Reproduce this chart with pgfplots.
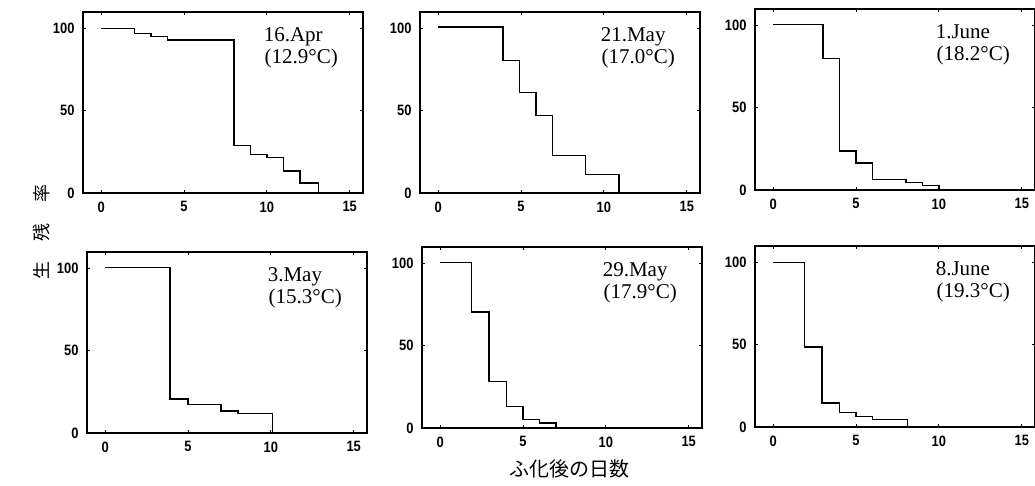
\documentclass[border=0pt]{standalone}
\usepackage{pgfplots}
\pgfplotsset{compat=1.18}
\usepackage{fontspec}
\setmainfont{Liberation Sans}
\newfontfamily\serif{Liberation Serif}
\newfontfamily\tickfont[FakeStretch=0.86]{Liberation Sans}
\newfontfamily\cjk{Noto Sans CJK JP}

\pgfplotsset{
  panel/.style={
    scale only axis, width=280pt, height=181pt,
    anchor=south west,
    xmin=-1.1, xmax=15.8, ymin=0, ymax=110,
    xtick={0,5,10,15}, ytick={0,50,100},
    tick align=inside, major tick length=3pt,
    axis line style={line width=1.4pt},
    every tick/.style={black, line width=1pt},
    ticklabel style={font=\tickfont\bfseries\fontsize{15}{15}\selectfont},
    /pgf/number format/assume math mode=true,
    xticklabel style={yshift=-5pt},
    yticklabel style={xshift=-5pt},
  },
  curve/.style={const plot, black, line width=1.5pt, mark=none},
}
\newcommand{\pantag}[2]{%
  \node[anchor=base west, inner sep=0pt, font=\serif\fontsize{21}{22}\selectfont]
    at (axis cs:9.8,92) {#1};
  \node[anchor=base west, inner sep=0pt, font=\serif\fontsize{21}{22}\selectfont]
    at (axis cs:9.85,78.8) {#2};}

\begin{document}
\begin{tikzpicture}
\useasboundingbox (0pt,0pt) rectangle (1035pt,485pt);

% top row
\begin{axis}[panel, at={(83pt,292pt)}]
  \addplot[curve] coordinates {(0,100) (2,97) (3,95) (4,93) (8,29) (9,23.5)
    (10,21.5) (11,13.5) (12,6) (13.1,0)};
  \pantag{16.Apr}{(12.9°C)}
\end{axis}
\begin{axis}[panel, at={(420pt,292pt)}]
  \addplot[curve] coordinates {(0,101) (3.9,80.5) (4.9,61) (5.9,47) (6.9,22.7)
    (8.9,11.2) (10.9,0)};
  \pantag{21.May}{(17.0°C)}
\end{axis}
\begin{axis}[panel, at={(755pt,295pt)}]
  \addplot[curve] coordinates {(0,100.5) (3,80) (4,23.6) (5,16.3) (6,6.5)
    (8,4.6) (9,2.6) (10,0)};
  \pantag{1.June}{(18.2°C)}
\end{axis}

% bottom row
\begin{axis}[panel, at={(87pt,52pt)}]
  \addplot[curve] coordinates {(0,100.5) (3.9,20.7) (5,17.2) (7,13.4) (8,11.8)
    (10.1,0)};
  \pantag{3.May}{(15.3°C)}
\end{axis}
\begin{axis}[panel, at={(422pt,57pt)}]
  \addplot[curve] coordinates {(0,100.5) (1.9,70.6) (2.95,28.4) (4,13.2) (5,5.1)
    (6,3) (7,0)};
  \pantag{29.May}{(17.9°C)}
\end{axis}
\begin{axis}[panel, at={(755pt,58pt)}]
  \addplot[curve] coordinates {(0,100) (1.9,48.5) (2.95,14.5) (4,8.8) (5,6.3)
    (6,4.7) (8.1,0)};
  \pantag{8.June}{(19.3°C)}
\end{axis}

\node[font=\cjk\fontsize{20}{20}\selectfont] at (569pt,16pt) {ふ化後の日数};
\node[rotate=90, font=\cjk\fontsize{18}{18}\selectfont] at (42pt,253pt)
  {生\hspace{21pt}残\hspace{21pt}率};
\end{tikzpicture}
\end{document}
